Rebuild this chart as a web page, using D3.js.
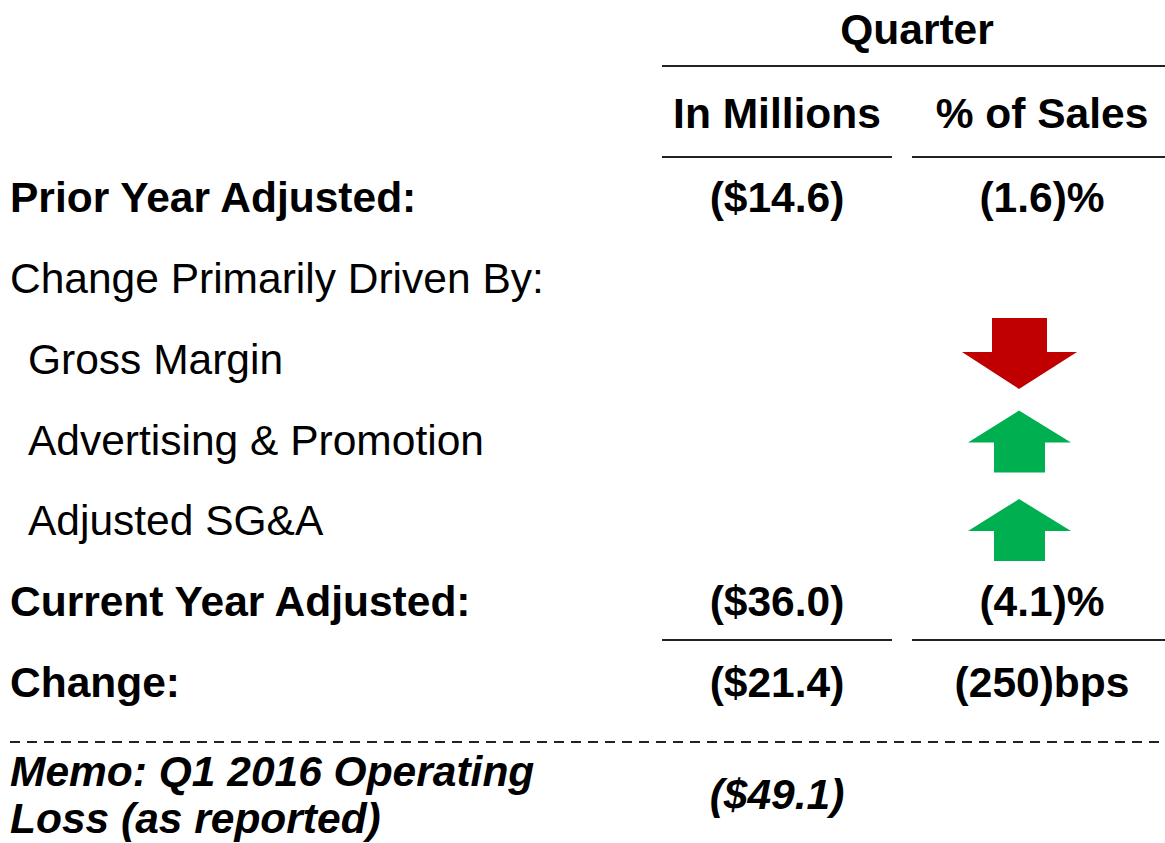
<!DOCTYPE html>
<html>
<head>
<meta charset="utf-8">
<script src="https://cdn.jsdelivr.net/npm/d3@7"></script>
<style>
  body { margin: 0; background: #fff; }
  svg text { font-family: 'Liberation Sans', Arial, sans-serif; fill: #000; font-size: 42.5px; }
</style>
</head>
<body>
<div id="chart"></div>
<script>
const width = 1165;
const height = 843;

// Data
const columns = ['In Millions', '% of Sales'];
const rowKeys = ['prior', 'driven', 'gross', 'adv', 'sga', 'current', 'change'];
const rowLabels = [
  'Prior Year Adjusted:',
  'Change Primarily Driven By:',
  'Gross Margin',
  'Advertising & Promotion',
  'Adjusted SG&A',
  'Current Year Adjusted:',
  'Change:',
];
const rowBold = [true, false, false, false, false, true, true];
const rowIndent = [false, false, true, true, true, false, false];
const millions = ['($14.6)', null, null, null, null, '($36.0)', '($21.4)'];
const pctSales = ['(1.6)%', null, null, null, null, '(4.1)%', '(250)bps'];
const driverRows = ['gross', 'adv', 'sga'];
const driverDirection = ['down', 'up', 'up'];
const memoLabel = ['Memo: Q1 2016 Operating', 'Loss (as reported)'];
const memoValue = '($49.1)';

const svg = d3
  .select('#chart')
  .append('svg')
  .attr('width', width)
  .attr('height', height);

const y = d3.scalePoint().domain(rowKeys).range([212, 697]);
// arrows sit on their own vertical grid
const yArrow = d3.scalePoint().domain(driverRows).range([353, 530]);
const colCenter = d3.scaleOrdinal().domain(columns).range([777, 1042]);
const colExtent = d3.scaleOrdinal().domain(columns).range([[662, 892], [912, 1165]]);

// Header
svg.append('text')
  .attr('x', 917).attr('y', 44)
  .attr('text-anchor', 'middle')
  .style('font-weight', 'bold')
  .text('Quarter');

svg.append('line')
  .attr('x1', 662).attr('x2', 1165).attr('y1', 66).attr('y2', 66)
  .attr('stroke', '#222').attr('stroke-width', 2);

svg.selectAll('.colhead')
  .data(columns)
  .enter()
  .append('text')
  .classed('colhead', true)
  .attr('x', (d) => colCenter(d))
  .attr('y', 128)
  .attr('text-anchor', 'middle')
  .style('font-weight', 'bold')
  .text((d) => d);

function colLines(yPos) {
  svg.selectAll(null)
    .data(columns)
    .enter()
    .append('line')
    .attr('x1', (d) => colExtent(d)[0])
    .attr('x2', (d) => colExtent(d)[1])
    .attr('y1', yPos).attr('y2', yPos)
    .attr('stroke', '#222').attr('stroke-width', 2);
}
colLines(157);
colLines(640);

// Row labels
svg.selectAll('.rowlabel')
  .data(rowKeys)
  .enter()
  .append('text')
  .classed('rowlabel', true)
  .attr('x', (d, i) => (rowIndent[i] ? 28 : 10))
  .attr('y', (d) => y(d))
  .style('font-weight', (d, i) => (rowBold[i] ? 'bold' : 'normal'))
  .text((d, i) => rowLabels[i]);

// Values
[millions, pctSales].forEach((vals, ci) => {
  svg.selectAll(null)
    .data(rowKeys.filter((k, i) => vals[i] !== null))
    .enter()
    .append('text')
    .attr('x', colCenter(columns[ci]))
    .attr('y', (d) => y(d))
    .attr('text-anchor', 'middle')
    .style('font-weight', 'bold')
    .text((d) => vals[rowKeys.indexOf(d)]);
});

// Driver arrows
function arrowPath(dir) {
  // centred on 0,0
  if (dir === 'down') {
    return 'M-27,-35 L28,-35 L28,-1 L58,-1 L0,36 L-57,-1 L-27,-1 Z';
  }
  return 'M0,-31 L52,1 L26,1 L26,31 L-25,31 L-25,1 L-51,1 Z';
}

svg.selectAll('.arrow')
  .data(driverRows)
  .enter()
  .append('path')
  .classed('arrow', true)
  .attr('transform', (d) => `translate(1019,${yArrow(d)})`)
  .attr('d', (d, i) => arrowPath(driverDirection[i]))
  .attr('fill', (d, i) => (driverDirection[i] === 'down' ? '#C00000' : '#00B050'));

// Dashed separator
svg.append('line')
  .attr('x1', 10).attr('x2', 1160).attr('y1', 742).attr('y2', 742)
  .attr('stroke', '#222').attr('stroke-width', 2)
  .attr('stroke-dasharray', '10,7');

// Memo
svg.selectAll('.memo')
  .data(memoLabel)
  .enter()
  .append('text')
  .classed('memo', true)
  .attr('x', 10)
  .attr('y', (d, i) => 786 + i * 47)
  .style('font-weight', 'bold').style('font-style', 'italic')
  .text((d) => d);

svg.append('text')
  .attr('x', colCenter(columns[0]))
  .attr('y', 809)
  .attr('text-anchor', 'middle')
  .style('font-weight', 'bold').style('font-style', 'italic')
  .text(memoValue);
</script>
</body>
</html>
